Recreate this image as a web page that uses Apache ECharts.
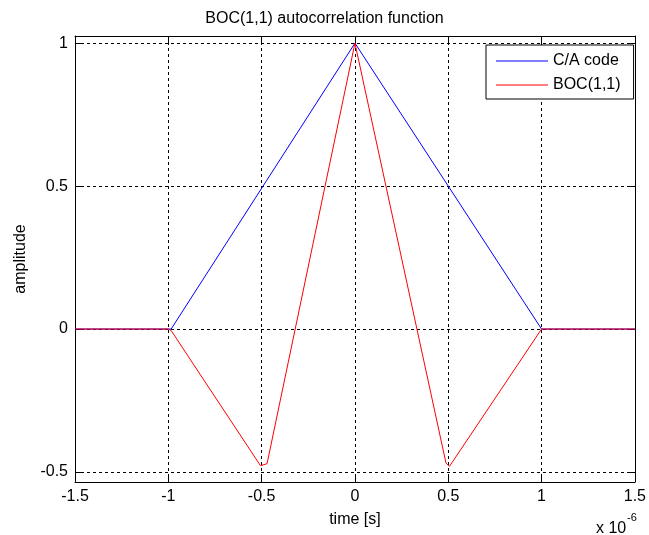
<!DOCTYPE html>
<html>
<head>
<meta charset="utf-8">
<script src="https://cdn.jsdelivr.net/npm/echarts@6/dist/echarts.min.js"></script>
<style>html,body{margin:0;padding:0;background:#fff}#c{width:649px;height:535px}</style>
</head>
<body>
<div id="c"></div>
<script>
// Data (time in units of 1e-6 s)
const caTime = [-1.5, -0.985, 0, 1.0, 1.5];
const caAmp  = [0, 0, 1, 0, 0];
const bocTime = [-1.5, -1.0, -0.985, -0.506, -0.471, 0, 0.488, 0.507, 1.0, 1.5];
const bocAmp  = [0, 0, -0.005, -0.478, -0.471, 1, -0.469, -0.480, 0, 0];
const xTicks = [-1.5, -1, -0.5, 0, 0.5, 1, 1.5];
const yTicks = [-0.5, 0, 0.5, 1];
const seriesNames = ['C/A code', 'BOC(1,1)'];

const FONT = '"Liberation Sans", Arial, Helvetica, sans-serif';
const FS = 16;
const chart = echarts.init(document.getElementById('c'));
const zip = (a, b) => a.map((v, i) => [v, b[i]]);
const fmt = v => String(Math.round(v * 100) / 100);

const grid = {left: 75, right: 11, top: 36, bottom: 53};
const dashed = {show: true, lineStyle: {color: '#000', width: 1, type: [3, 3]}};

chart.setOption({
  animation: false,
  backgroundColor: '#fff',
  textStyle: {fontFamily: FONT},
  title: {
    text: 'BOC(1,1) autocorrelation function',
    left: 'center', top: 6,
    textStyle: {fontFamily: FONT, fontSize: FS, fontWeight: 'normal', color: '#000'}
  },
  grid: grid,
  legend: {
    data: seriesNames,
    orient: 'vertical',
    left: 486, top: 45,
    backgroundColor: '#fff',
    borderColor: '#000', borderWidth: 1, borderRadius: 0,
    padding: [8, 13, 6, 10],
    itemGap: 8,
    itemWidth: 52, itemHeight: 1,
    icon: 'rect',
    textStyle: {fontFamily: FONT, fontSize: FS, color: '#000', lineHeight: 16, padding: [0, 0, 0, 0]}
  },
  xAxis: [{
    type: 'value', min: -1.5, max: 1.5, interval: 0.5,
    position: 'bottom',
    axisLine: {show: true, onZero: false, lineStyle: {color: '#000', width: 1}},
    axisTick: {show: true, inside: true, length: 6, lineStyle: {color: '#000'}},
    axisLabel: {formatter: fmt, color: '#000', fontSize: FS, fontFamily: FONT, margin: 7},
    splitLine: dashed,
    name: 'time [s]', nameLocation: 'middle', nameGap: 30,
    nameTextStyle: {fontSize: FS, fontFamily: FONT, color: '#000'}
  }, {
    type: 'value', min: -1.5, max: 1.5, interval: 0.5,
    position: 'top',
    axisLine: {show: true, onZero: false, lineStyle: {color: '#000', width: 1}},
    axisTick: {show: true, inside: true, length: 6, lineStyle: {color: '#000'}},
    axisLabel: {show: false},
    splitLine: {show: false}
  }],
  yAxis: [{
    type: 'value', min: -0.535, max: 1.025,
    position: 'left',
    axisLine: {show: true, onZero: false, lineStyle: {color: '#000', width: 1}},
    axisTick: {show: true, inside: true, length: 6, lineStyle: {color: '#000'}, customValues: yTicks},
    axisLabel: {formatter: fmt, color: '#000', fontSize: FS, fontFamily: FONT, margin: 7, customValues: yTicks},
    splitLine: dashed,
    name: 'amplitude', nameLocation: 'middle', nameGap: 46, nameRotate: 90,
    nameTextStyle: {fontSize: FS, fontFamily: FONT, color: '#000'}
  }, {
    type: 'value', min: -0.535, max: 1.025,
    position: 'right',
    axisLine: {show: true, onZero: false, lineStyle: {color: '#000', width: 1}},
    axisTick: {show: true, inside: true, length: 6, lineStyle: {color: '#000'}, customValues: yTicks},
    axisLabel: {show: false},
    splitLine: {show: false}
  }],
  series: [{
    name: seriesNames[0], type: 'line', data: zip(caTime, caAmp),
    showSymbol: false, symbol: 'none', color: '#0000ff',
    lineStyle: {color: '#0000ff', width: 1}
  }, {
    name: seriesNames[1], type: 'line', data: zip(bocTime, bocAmp),
    showSymbol: false, symbol: 'none', color: '#ff0000',
    lineStyle: {color: '#ff0000', width: 1}
  }],
  graphic: [{
    type: 'text', left: 596, top: 521,
    style: {text: 'x 10', fontSize: FS, fontFamily: FONT, fill: '#000'}
  }, {
    type: 'text', left: 627, top: 512,
    style: {text: '-6', fontSize: 11, fontFamily: FONT, fill: '#000'}
  }]
});
</script>
</body>
</html>
